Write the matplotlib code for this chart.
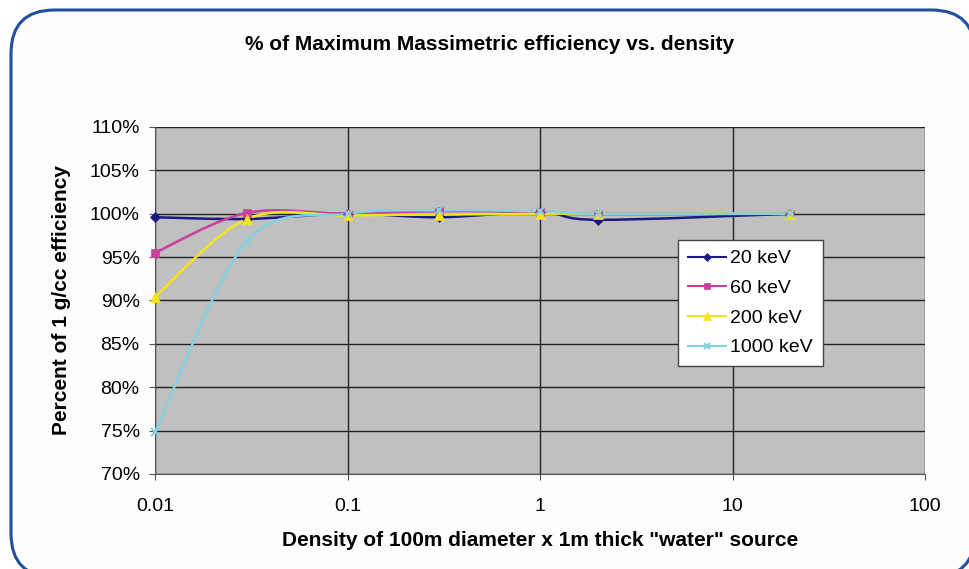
import numpy as np
import matplotlib
matplotlib.use("Agg")
import matplotlib.pyplot as plt
from matplotlib.path import Path
from matplotlib.patches import PathPatch, FancyBboxPatch
from matplotlib.lines import Line2D
from matplotlib.ticker import FuncFormatter, FixedLocator, NullLocator

plt.rcParams["font.family"] = ["Liberation Sans", "DejaVu Sans"]

# density (g/cc) and % of 1 g/cc efficiency
density = [0.01, 0.03, 0.1, 0.3, 1, 2, 20]
eff_20 = [99.6, 99.4, 100.0, 99.6, 100.2, 99.3, 100.0]
eff_60 = [95.5, 100.1, 100.0, 100.3, 100.2, 100.0, 100.0]
eff_200 = [90.4, 99.4, 99.8, 99.9, 100.0, 100.0, 100.0]
eff_1000 = [74.8, 96.8, 100.0, 100.4, 100.3, 100.0, 100.0]
labels = ["20 keV", "60 keV", "200 keV", "1000 keV"]
x_ticks = [0.01, 0.1, 1, 10, 100]
y_ticks = [70, 75, 80, 85, 90, 95, 100, 105, 110]

series = [
    (eff_20, "#1a1a80", "D", 5),
    (eff_60, "#c8409c", "s", 6),
    (eff_200, "#f2e41a", "^", 7),
    (eff_1000, "#86d0e2", "x", 6),
]


def smooth_path(xs, ys):
    # Excel-style smoothed line: cubic Bezier through points in log-x space
    lx = np.log10(xs)
    ys = np.asarray(ys, float)
    n = len(lx)
    verts = [(lx[0], ys[0])]
    codes = [Path.MOVETO]
    for i in range(n - 1):
        ip, inx = max(i - 1, 0), min(i + 2, n - 1)
        c1 = (lx[i] + (lx[i + 1] - lx[ip]) / 6, ys[i] + (ys[i + 1] - ys[ip]) / 6)
        c2 = (lx[i + 1] - (lx[inx] - lx[i]) / 6, ys[i + 1] - (ys[inx] - ys[i]) / 6)
        verts += [c1, c2, (lx[i + 1], ys[i + 1])]
        codes += [Path.CURVE4] * 3
    verts = [(10 ** a, b) for a, b in verts]
    return Path(verts, codes)


fig = plt.figure(figsize=(9.69, 5.69), dpi=100)
fig.patch.set_facecolor("white")

# rounded blue frame around the whole chart
frame = FancyBboxPatch((11 / 969, 0.0 - 8 / 569), (975 - 11) / 969, (569 - 10 + 8) / 569,
                       boxstyle="round,pad=0,rounding_size=0.045",
                       transform=fig.transFigure, facecolor="#fdfdfd",
                       edgecolor="#1f4f9e", linewidth=2.2, mutation_aspect=969 / 569,
                       zorder=-10)
fig.patches.append(frame)

ax = fig.add_axes([155 / 969, 1 - 474 / 569, (925 - 155) / 969, (474 - 127) / 569])
ax.set_zorder(5)
ax.set_facecolor("#c0c0c0")
ax.set_xscale("log")
ax.set_xlim(0.01, 100)
ax.set_ylim(70, 110)

for ys, col, mk, ms in series:
    ax.add_patch(PathPatch(smooth_path(density, ys), fill=False, edgecolor=col,
                           linewidth=1.8, zorder=3))
    ax.plot(density, ys, linestyle="none", marker=mk, color=col, markersize=ms,
            markeredgewidth=1.5 if mk == "x" else 0.5, clip_on=False, zorder=4)

ax.xaxis.set_major_locator(FixedLocator(x_ticks))
ax.xaxis.set_minor_locator(NullLocator())
ax.xaxis.set_major_formatter(FuncFormatter(lambda v, p: "%g" % v))
ax.yaxis.set_major_locator(FixedLocator(y_ticks))
ax.yaxis.set_major_formatter(FuncFormatter(lambda v, p: "%d%%" % v))
ax.grid(True, which="major", color="#222222", linewidth=1.0)
ax.set_axisbelow(True)
ax.tick_params(labelsize=14, length=4, color="#555555")
ax.tick_params(axis="x", pad=13)
ax.tick_params(axis="y", pad=7)
for s in ("top", "right"):
    ax.spines[s].set_visible(False)
for s in ("left", "bottom"):
    ax.spines[s].set_color("#555555")

ax.set_xlabel('Density of 100m diameter x 1m thick "water" source',
              fontsize=15, fontweight="bold", va="center")
ax.xaxis.set_label_coords(0.5, -(541 - 474) / 347)
ax.set_ylabel("Percent of 1 g/cc efficiency", fontsize=15, fontweight="bold",
              va="center")
ax.yaxis.set_label_coords(-(155 - 62) / 770, 0.5)
fig.text(490 / 969, 1 - 44 / 569, "% of Maximum Massimetric efficiency vs. density",
         ha="center", va="center", fontsize=15, fontweight="bold")

handles = [Line2D([], [], color=col, marker=mk, markersize=ms * 0.8, linewidth=1.5,
                  markeredgewidth=1.5 if mk == "x" else 0.5)
           for _, col, mk, ms in series]
leg = ax.legend(handles, labels, loc="upper left", bbox_to_anchor=(0.679, 0.674),
                fontsize=14, frameon=True, fancybox=False, framealpha=1,
                handlelength=2.0, handletextpad=0.2, borderpad=0.5,
                labelspacing=0.62, borderaxespad=0)
leg.get_frame().set_edgecolor("#444444")
leg.get_frame().set_facecolor("white")
leg.get_frame().set_linewidth(1.0)

fig.savefig("out.png", dpi=100, facecolor="white")
